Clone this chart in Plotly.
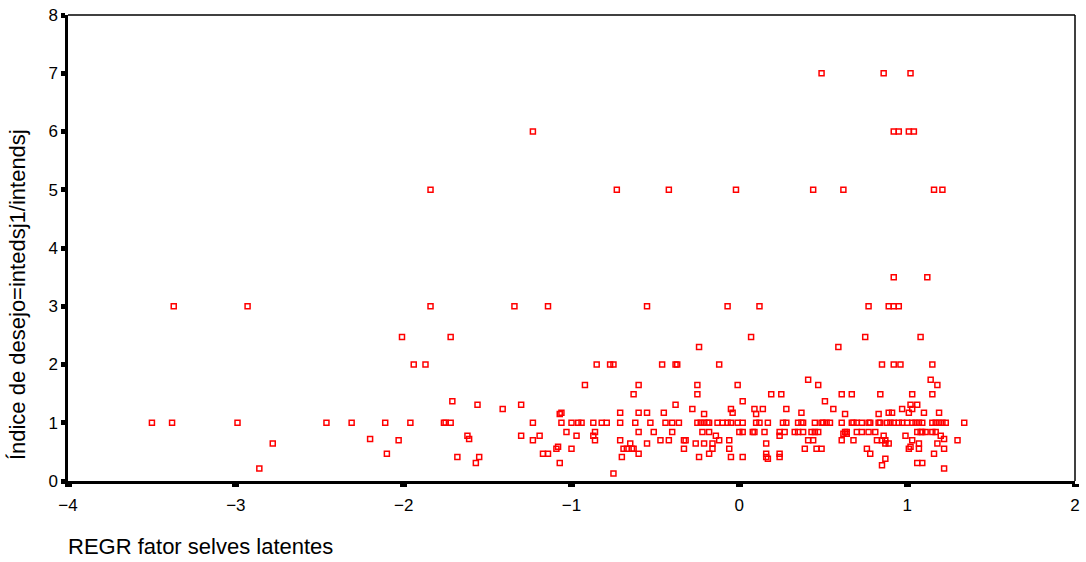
import plotly.graph_objects as go

# Points, grouped by their y value
x_y7 = [0.49, 0.86, 1.02]
x_y6 = [-1.23, 0.92, 0.95, 1.01, 1.04]
x_y5 = [-1.84, -0.73, -0.42, -0.02, 0.44, 0.62, 1.16, 1.21]
x_y35 = [0.92, 1.12]
x_y3 = [-3.37, -2.93, -1.84, -1.34, -1.14, -0.55, -0.07, 0.12, 0.77, 0.89, 0.92, 0.95]
x_y25 = [-2.01, -1.72, 0.07, 0.75, 1.08]
x_y23 = [-0.24, 0.59]
x_y2 = [-1.94, -1.87, -0.85, -0.77, -0.75, -0.46, -0.38, -0.37, -0.12, 0.85, 0.92, 0.96, 1.15]
x_y174 = [0.41, 1.14]
x_y165 = [-0.92, -0.60, -0.25, -0.01, 0.47, 1.18]
x_y15 = [-0.63, -0.25, 0.19, 0.25, 0.61, 0.67, 0.84, 1.03, 1.15]
x_y137 = [-1.71, 0.02, 0.51]
x_y131 = [-1.56, -1.30, -0.38, 1.02, 1.06]
x_y124 = [-1.41, -0.28, -0.05, 0.09, 0.14, 0.28, 0.56, 0.97, 1.03]
x_y117 = [-1.06, -0.71, -0.60, -0.55, -0.45, -0.04, 0.37, 0.89, 0.91, 1.01, 1.10, 1.19]
x_y115 = [-1.07, -0.21, 0.10, 0.63, 0.83]
x_y1 = [-3.50, -3.38, -2.99, -2.46, -2.31, -2.11, -1.96, -1.76, -1.75, -1.72, -1.23,
        -1.06, -1.00, -0.96, -0.94, -0.87, -0.82, -0.79, -0.71, -0.62, -0.53, -0.44,
        -0.40, -0.36, -0.25, -0.23, -0.21, -0.19, -0.18, -0.13, -0.10, -0.07, -0.05,
        -0.01, 0.02, 0.10, 0.12, 0.17, 0.26, 0.28, 0.35, 0.37, 0.38, 0.45, 0.49, 0.50,
        0.52, 0.54, 0.61, 0.67, 0.68, 0.70, 0.73, 0.77, 0.78, 0.83, 0.84, 0.88, 0.90,
        0.92, 0.95, 0.97, 1.00, 1.03, 1.05, 1.07, 1.09, 1.15, 1.17, 1.19, 1.21, 1.23, 1.34]
x_y084 = [-1.03, -0.86, -0.60, -0.51, -0.40, -0.22, -0.18, 0.00, 0.02, 0.08, 0.09, 0.15,
          0.24, 0.27, 0.33, 0.35, 0.38, 0.43, 0.45, 0.47, 0.63, 0.64, 0.70, 0.73, 0.77,
          0.81, 1.06, 1.08, 1.09, 1.11, 1.15, 1.17]
x_y081 = [0.62, 0.64]
x_y078 = [-1.62, -1.30, -1.19, -0.97, -0.87, -0.14, 0.24, 0.86, 0.99, 1.20]
x_y072 = [-2.20, -1.61, 1.22]
x_y070 = [-2.03, -1.23, -0.86, -0.71, -0.47, -0.42, -0.33, -0.32, -0.12, -0.06, 0.41,
          0.44, 0.61, 0.68, 0.82, 0.85, 0.87, 1.03, 1.30]
x_y065 = [-2.78, -0.65, -0.55, -0.26, -0.21, -0.16, 0.16, 0.87, 0.89, 1.07, 1.18]
x_y059 = [-1.08, 1.02]
x_y056 = [-1.09, -1.00, -0.69, -0.67, -0.64, -0.63, -0.33, -0.16, -0.06, 0.39, 0.46,
          0.49, 0.76, 1.01, 1.07, 1.22]
x_y047 = [-2.10, -1.17, -1.14, -0.60, -0.18, 0.16, 0.24, 0.78, 1.16]
x_y041 = [-1.68, -1.55, -0.70, -0.24, -0.05, 0.02, 0.16, 0.24]
x_y038 = [0.17, 0.87]
x_y031 = [-1.57, -1.07, 1.06, 1.09]
x_y027 = [0.85]
x_y022 = [-2.86, 1.22]
x_y013 = [-0.75]

groups = [
    (7.0, x_y7), (6.0, x_y6), (5.0, x_y5), (3.5, x_y35), (3.0, x_y3), (2.47, x_y25),
    (2.3, x_y23), (2.0, x_y2), (1.74, x_y174), (1.65, x_y165), (1.49, x_y15),
    (1.37, x_y137), (1.31, x_y131), (1.235, x_y124), (1.17, x_y117), (1.15, x_y115),
    (1.0, x_y1), (0.84, x_y084), (0.81, x_y081), (0.777, x_y078), (0.72, x_y072),
    (0.70, x_y070), (0.645, x_y065), (0.59, x_y059), (0.555, x_y056), (0.468, x_y047),
    (0.41, x_y041), (0.38, x_y038), (0.31, x_y031), (0.27, x_y027), (0.215, x_y022),
    (0.13, x_y013),
]

xs, ys = [], []
for yv, xl in groups:
    for xv in xl:
        xs.append(xv)
        ys.append(yv)

x_ticks = [-4, -3, -2, -1, 0, 1, 2]
y_ticks = [0, 1, 2, 3, 4, 5, 6, 7, 8]

FONT = "Liberation Sans, Arial, sans-serif"

fig = go.Figure(go.Scatter(
    x=xs, y=ys, mode="markers",
    marker=dict(symbol="square-open", size=5, color="#FF0000",
                line=dict(width=1.5, color="#FF0000")),
    showlegend=False, hoverinfo="x+y",
))

fig.update_layout(
    width=1086, height=562,
    margin=dict(l=68, r=6, t=15, b=81),
    paper_bgcolor="white", plot_bgcolor="white",
    font=dict(family=FONT, color="black"),
    xaxis=dict(range=[-4, 2], tickvals=x_ticks, showgrid=False, zeroline=False,
               showline=True, linecolor="black", linewidth=2.5,
               ticks="outside", ticklen=3, tickwidth=7, tickcolor="black",
               tickfont=dict(size=17, family=FONT, color="black"),
               ticklabelstandoff=4),
    yaxis=dict(range=[0, 8], tickvals=y_ticks, showgrid=False, zeroline=False,
               showline=True, linecolor="black", linewidth=2.5,
               ticks="outside", ticklen=4, tickwidth=5, tickcolor="black",
               tickfont=dict(size=17, family=FONT, color="black")),
    shapes=[
        dict(type="line", xref="paper", yref="paper", x0=0, x1=1, y0=1, y1=1,
             line=dict(color="black", width=1.5)),
        dict(type="line", xref="paper", yref="paper", x0=1, x1=1, y0=0, y1=1,
             line=dict(color="black", width=1.5)),
    ],
    annotations=[
        dict(text="REGR fator selves latentes", xref="paper", yref="paper",
             x=-0.002, y=-0.1416, xanchor="left", yanchor="middle", showarrow=False,
             font=dict(size=22, family=FONT, color="black")),
        dict(text="Índice de desejo=intedsj1/intendsj", xref="paper", yref="paper",
             x=-0.0494, y=0.04, xanchor="center", yanchor="bottom", textangle=-90,
             showarrow=False, font=dict(size=22, family=FONT, color="black")),
    ],
)

fig.write_html("out.html")
